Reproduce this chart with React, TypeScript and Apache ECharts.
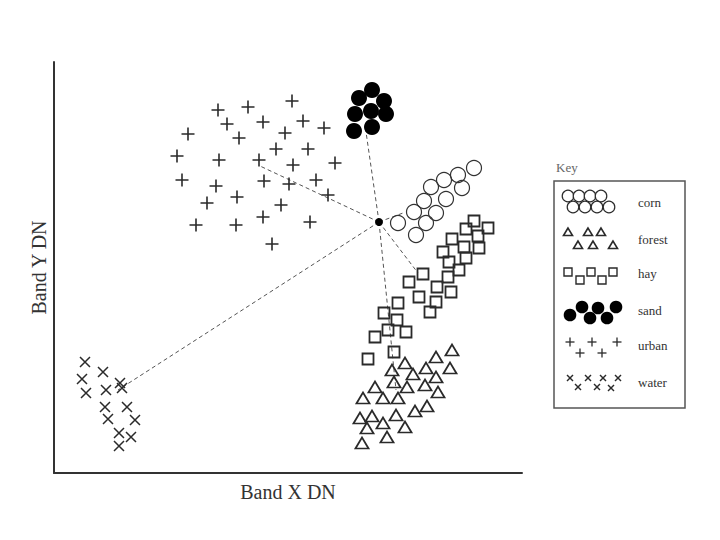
import React, { useEffect, useRef } from "react";
import * as echarts from "echarts";

// Values in "DN" units (x: 0..468, y: 0..411)
const urban: number[][] = [
  [238, 372], [164, 363], [194, 366], [173, 349], [209, 351], [249, 352], [270, 345],
  [134, 339], [185, 335], [231, 340], [222, 324], [254, 324], [123, 317], [165, 313],
  [205, 313], [239, 308], [281, 310], [128, 293], [162, 287], [210, 292], [235, 289],
  [262, 293], [274, 278], [153, 270], [183, 276], [227, 268], [142, 248], [182, 248],
  [209, 256], [256, 251], [218, 229],
];
const sand: number[][] = [
  [318, 383], [305, 375], [330, 372], [317, 362], [301, 359], [332, 359], [300, 342], [318, 346],
];
const corn: number[][] = [
  [420, 305], [404, 298], [390, 293], [377, 286], [408, 285], [392, 274], [370, 272],
  [360, 261], [382, 260], [344, 250], [372, 250], [362, 238],
];
const hay: number[][] = [
  [420, 252], [434, 245], [412, 244], [424, 237], [398, 234], [410, 226], [425, 225],
  [389, 221], [412, 215], [395, 211], [405, 203], [394, 196], [369, 199], [355, 191],
  [383, 186], [397, 181], [365, 176], [382, 171], [376, 161], [344, 170], [330, 160],
  [343, 153], [321, 136], [334, 143], [352, 141], [314, 114], [340, 121],
];
const forest: number[][] = [
  [398, 123], [382, 116], [351, 110], [338, 103], [372, 105], [396, 105], [359, 99],
  [382, 96], [340, 91], [321, 86], [353, 86], [371, 88], [384, 81], [309, 75], [329, 75],
  [344, 75], [373, 67], [361, 62], [306, 55], [318, 57], [342, 58], [329, 50], [313, 45],
  [351, 46], [333, 36], [308, 30],
];
const water: number[][] = [
  [31, 111], [49, 101], [28, 94], [66, 90], [32, 80], [52, 83], [68, 85], [51, 66],
  [73, 66], [54, 54], [81, 53], [65, 40], [77, 36], [65, 27],
];
const centerPoint: number[] = [325, 251];
const lineEnds: number[][] = [
  [311, 348], // sand
  [206, 307], // urban
  [64, 83], // water
  [364, 200], // hay
  [342, 83], // forest
  [349, 260], // corn
];
const keyLabels: string[] = ["corn", "forest", "hay", "sand", "urban", "water"];

const FONT = "Liberation Serif";
const DARK = "#2a2a2a";

export default function App() {
  const ref = useRef<HTMLDivElement>(null);
  useEffect(() => {
    if (!ref.current) return;
    const chart = echarts.init(ref.current, undefined, { renderer: "svg" });

    const keyY = [202, 239, 273, 310, 345, 382];
    const graphics: any[] = [];
    graphics.push({
      type: "text", left: 556, top: 161,
      style: { text: "Key", font: `13px "${FONT}"`, fill: "#666" },
    });
    graphics.push({
      type: "rect", shape: { x: 554, y: 181, width: 131, height: 227 },
      style: { fill: "none", stroke: "#555", lineWidth: 1.5 },
    });
    keyLabels.forEach((t, i) => {
      graphics.push({
        type: "text", x: 638, y: keyY[i],
        style: { text: t, font: `13px "${FONT}"`, fill: "#333", textVerticalAlign: "middle" },
      });
    });
    // corn key
    [[568, 196], [579, 196], [590, 196], [601, 196], [573, 207], [585, 207], [597, 207], [609, 207]].forEach(
      ([x, y]) => graphics.push({ type: "circle", shape: { cx: x, cy: y, r: 5.8 }, style: { fill: "#fff", stroke: DARK, lineWidth: 1.2 } })
    );
    // forest key
    [[568, 232], [588, 232], [601, 232], [578, 245], [593, 245], [613, 245]].forEach(([x, y]) =>
      graphics.push({
        type: "polygon", shape: { points: [[x, y - 4], [x - 4.5, y + 3.5], [x + 4.5, y + 3.5]] },
        style: { fill: "none", stroke: DARK, lineWidth: 1.6 },
      })
    );
    // hay key
    [[568, 272], [591, 272], [613, 272], [580, 280], [602, 280]].forEach(([x, y]) =>
      graphics.push({ type: "rect", shape: { x: x - 4, y: y - 4, width: 8, height: 8 }, style: { fill: "none", stroke: DARK, lineWidth: 1.4 } })
    );
    // sand key
    [[570, 315], [582, 307], [590, 318], [598, 308], [607, 318], [616, 307]].forEach(([x, y]) =>
      graphics.push({ type: "circle", shape: { cx: x, cy: y, r: 6.3 }, style: { fill: "#000" } })
    );
    // urban key
    [[570, 342], [580, 353], [592, 342], [602, 353], [617, 342]].forEach(([x, y]) => {
      graphics.push({ type: "line", shape: { x1: x - 4.5, y1: y, x2: x + 4.5, y2: y }, style: { stroke: DARK, lineWidth: 1.3 } });
      graphics.push({ type: "line", shape: { x1: x, y1: y - 4.5, x2: x, y2: y + 4.5 }, style: { stroke: DARK, lineWidth: 1.3 } });
    });
    // water key
    [[570, 378], [578, 387], [588, 378], [597, 387], [603, 378], [611, 388], [618, 378]].forEach(([x, y]) => {
      graphics.push({ type: "line", shape: { x1: x - 3, y1: y - 3, x2: x + 3, y2: y + 3 }, style: { stroke: DARK, lineWidth: 1.4 } });
      graphics.push({ type: "line", shape: { x1: x + 3, y1: y - 3, x2: x - 3, y2: y + 3 }, style: { stroke: DARK, lineWidth: 1.4 } });
    });

    const clear = "rgba(0,0,0,0)";
    const option: any = {
      animation: false,
      backgroundColor: "#fff",
      grid: { left: 54, top: 62, right: 198, bottom: 67, containLabel: false },
      xAxis: {
        type: "value", min: 0, max: 468,
        name: "Band X DN", nameLocation: "middle", nameGap: 9,
        nameTextStyle: { fontFamily: FONT, fontSize: 20, color: "#333" },
        axisLine: { show: true, onZero: false, lineStyle: { color: "#333", width: 2 } },
        axisTick: { show: false }, axisLabel: { show: false }, splitLine: { show: false },
      },
      yAxis: {
        type: "value", min: 0, max: 411,
        name: "Band Y DN", nameLocation: "middle", nameGap: 5,
        nameTextStyle: { fontFamily: FONT, fontSize: 20, color: "#333" },
        axisLine: { show: true, onZero: false, lineStyle: { color: "#333", width: 2 } },
        axisTick: { show: false }, axisLabel: { show: false }, splitLine: { show: false },
      },
      series: [
        {
          type: "lines", coordinateSystem: "cartesian2d", silent: true,
          data: lineEnds.map((e) => ({ coords: [centerPoint, e] })),
          lineStyle: { color: "#555", width: 1, type: [4, 3], opacity: 1 },
        },
        {
          name: "urban", type: "scatter", data: urban, symbol: "path://M6 0L6 12M0 6L12 6", symbolSize: 13,
          itemStyle: { color: clear, borderColor: DARK, borderWidth: 1.6, opacity: 1 },
        },
        {
          name: "water", type: "scatter", data: water, symbol: "path://M0 0L10 10M10 0L0 10", symbolSize: 10,
          itemStyle: { color: clear, borderColor: DARK, borderWidth: 1.5, opacity: 1 },
        },
        {
          name: "corn", type: "scatter", data: corn, symbol: "circle", symbolSize: 15,
          itemStyle: { color: clear, borderColor: "#333", borderWidth: 1.2, opacity: 1 },
        },
        {
          name: "hay", type: "scatter", data: hay, symbol: "rect", symbolSize: 11,
          itemStyle: { color: clear, borderColor: DARK, borderWidth: 1.8, opacity: 1 },
        },
        {
          name: "forest", type: "scatter", data: forest, symbol: "triangle", symbolSize: [13, 11],
          itemStyle: { color: clear, borderColor: DARK, borderWidth: 1.8, opacity: 1 },
        },
        {
          name: "sand", type: "scatter", data: sand, symbol: "circle", symbolSize: 16,
          itemStyle: { color: "#000", opacity: 1 },
        },
        {
          name: "center", type: "scatter", data: [centerPoint], symbol: "circle", symbolSize: 8,
          itemStyle: { color: "#000", opacity: 1 },
        },
      ],
      graphic: graphics,
    };
    chart.setOption(option);
    return () => chart.dispose();
  }, []);
  return <div ref={ref} style={{ position: "absolute", left: 0, top: 0, width: 720, height: 540 }} />;
}
